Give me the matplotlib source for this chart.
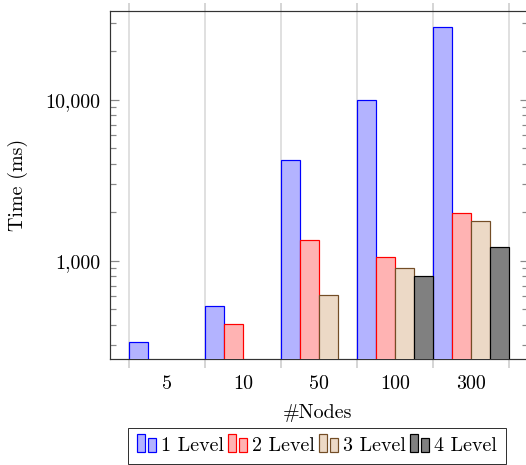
import numpy as np
import matplotlib
matplotlib.use("Agg")
import matplotlib.pyplot as plt
from matplotlib.patches import Rectangle
from matplotlib.legend_handler import HandlerBase
from matplotlib.ticker import FixedLocator, LogLocator, NullFormatter

plt.rcParams["font.family"] = "serif"
plt.rcParams["font.serif"] = ["cmr10", "DejaVu Serif"]
plt.rcParams["axes.formatter.use_mathtext"] = True
plt.rcParams["font.size"] = 10

nodes = ["5", "10", "50", "100", "300"]
series = ["1 Level", "2 Level", "3 Level", "4 Level"]
level1 = [310, 525, 4240, 9950, 28300]
level2 = [np.nan, 403, 1340, 1050, 1970]
level3 = [np.nan, np.nan, 607, 905, 1770]
level4 = [np.nan, np.nan, np.nan, 807, 1210]
ytick_vals = [1000, 10000]
ytick_labels = ["1,000", "10,000"]

FILLS = ["#b3b3ff", "#ffb3b3", "#ecd9c6", "#808080"]
EDGES = ["#0000ff", "#ff0000", "#734d26", "#000000"]


class TwoBars(HandlerBase):
    def create_artists(self, legend, orig_handle, xdescent, ydescent,
                       width, height, fontsize, trans):
        fc = orig_handle.get_facecolor()
        ec = orig_handle.get_edgecolor()
        w = width * 0.42
        x0, y0 = -xdescent, -ydescent - height * 0.1
        r1 = Rectangle((x0, y0), w, height * 1.3, fc=fc, ec=ec, lw=0.6,
                       transform=trans)
        r2 = Rectangle((x0 + width * 0.58, y0), w, height * 1.0, fc=fc, ec=ec,
                       lw=0.6, transform=trans)
        return [r1, r2]


fig = plt.figure(figsize=(526 / 144, 465 / 144), dpi=144)
ax = fig.add_axes([110 / 526, 106.3 / 465, 418 / 526, 347.4 / 465])

x = np.arange(len(nodes))
width = 0.25
handles = []
for j, vals in enumerate([level1, level2, level3, level4]):
    vals = np.asarray(vals, dtype=float)
    ok = ~np.isnan(vals)
    bars = ax.bar(x[ok] + (j - 1.5) * width, vals[ok], width=width,
                  bottom=1, color=FILLS[j], edgecolor=EDGES[j], lw=0.6,
                  zorder=3, label=series[j])
    handles.append(bars.patches[0])

ax.set_yscale("log")
ax.set_ylim(246, 35400)
ax.set_xlim(-0.75, 4.75)

# x: boundaries as major ticks + grid, labels on minor ticks at centres
ax.set_xticks(np.arange(len(nodes) + 1) - 0.5)
ax.set_xticklabels([])
ax.set_xticks(x, minor=True)
ax.set_xticklabels(nodes, minor=True)
ax.tick_params(axis="x", which="major", direction="out", length=4.25,
               width=0.8, color="#cccccc", top=True, bottom=True)
ax.tick_params(axis="x", which="minor", length=0, pad=8, labelsize=10)
ax.grid(axis="x", which="major", color="#dddddd", lw=0.9, zorder=0)

ax.yaxis.set_major_locator(FixedLocator(ytick_vals))
ax.set_yticklabels(ytick_labels)
ax.yaxis.set_minor_locator(LogLocator(base=10, subs=np.arange(2, 10)))
ax.yaxis.set_minor_formatter(NullFormatter())
ax.tick_params(axis="y", which="major", direction="in", length=4.25,
               width=0.6, color="#888888", left=True, right=True, pad=5,
               labelsize=10)
ax.tick_params(axis="y", which="minor", direction="in", length=2.83,
               width=0.6, color="#888888", left=True, right=True)

for sp in ax.spines.values():
    sp.set_linewidth(0.6)
    sp.set_color("#333333")

fig.text(18 / 526, 1 - 185 / 465, "Time (ms)", rotation=90,
         ha="center", va="center", fontsize=10)
fig.text(318 / 526, 1 - 413 / 465, "#Nodes", ha="center", va="center",
         fontsize=10)

leg = fig.legend(handles, series, handler_map={h: TwoBars() for h in handles},
                 loc="upper center", bbox_to_anchor=(317 / 526, 1 - 428 / 465),
                 ncol=4, frameon=True, fancybox=False, fontsize=10,
                 handlelength=0.95, handletextpad=0.25, columnspacing=0.2,
                 borderpad=0.45, borderaxespad=0)
leg.get_frame().set_edgecolor("black")
leg.get_frame().set_linewidth(0.5)

fig.savefig("out.png", dpi=144)
